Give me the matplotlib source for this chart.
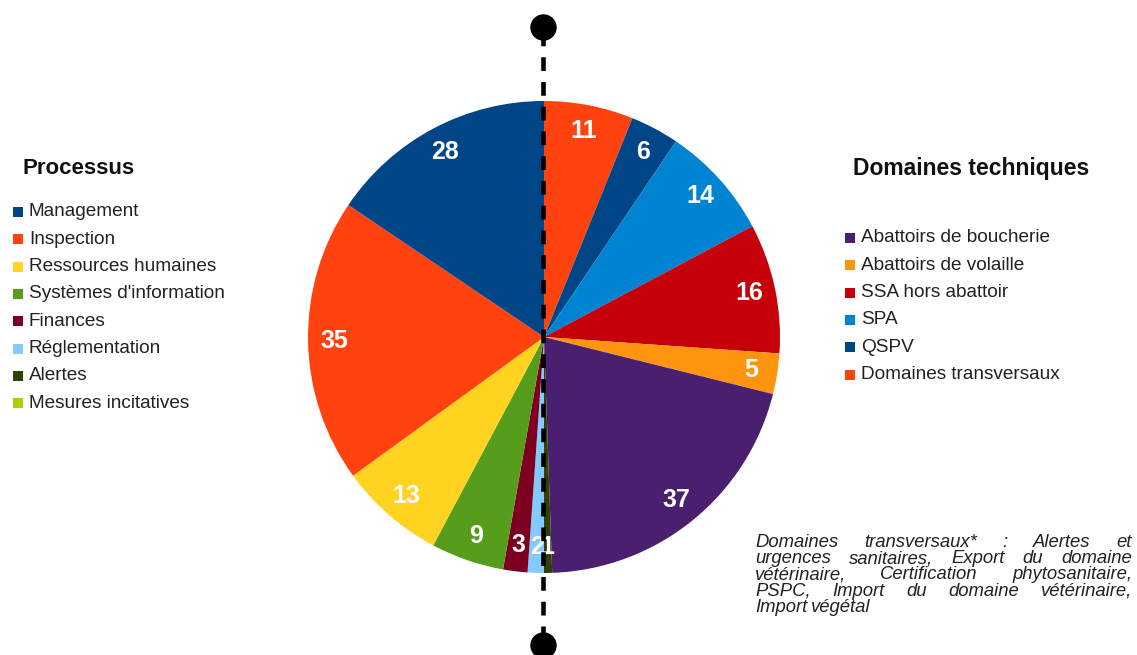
import matplotlib.pyplot as plt
from matplotlib.patches import Rectangle

plt.rcParams['font.family'] = ['Liberation Sans', 'DejaVu Sans']

W, H = 1137, 655

processus_labels = ['Management', 'Inspection', 'Ressources humaines',
                    "Systèmes d'information", 'Finances', 'Réglementation',
                    'Alertes', 'Mesures incitatives']
processus_values = [28, 35, 13, 9, 3, 2, 1, 0]
processus_colors = ['#004586', '#ff420e', '#ffd320', '#579d1c', '#7e0021',
                    '#83caff', '#314004', '#aecf00']

domaines_labels = ['Abattoirs de boucherie', 'Abattoirs de volaille',
                   'SSA hors abattoir', 'SPA', 'QSPV', 'Domaines transversaux']
domaines_values = [37, 5, 16, 14, 6, 11]
domaines_colors = ['#4b1f6f', '#ff950e', '#c5000b', '#0084d1', '#004586',
                   '#ff420e']

note_lines = [
    'Domaines transversaux* : Alertes et',
    'urgences sanitaires, Export du domaine',
    'vétérinaire, Certification phytosanitaire,',
    'PSPC, Import du domaine vétérinaire,',
    'Import végétal',
]


def Y(py):
    return H - py


fig = plt.figure(figsize=(W / 100, H / 100), dpi=100)
ax = fig.add_axes([0, 0, 1, 1])

# clockwise from top: domaines (reversed) then processus (reversed)
vals, cols = [], []
for v, c in zip(domaines_values[::-1], domaines_colors[::-1]):
    vals.append(v)
    cols.append(c)
for v, c in zip(processus_values[::-1], processus_colors[::-1]):
    if v > 0:
        vals.append(v)
        cols.append(c)
total = sum(vals)

ax.pie(vals, colors=cols, startangle=90, counterclock=False,
       center=(544, Y(337)), radius=236,
       autopct=lambda p: f'{round(p * total / 100)}', pctdistance=0.89,
       textprops=dict(color='white', fontweight='bold', fontsize=18),
       wedgeprops=dict(linewidth=0))

ax.set_xlim(0, W)
ax.set_ylim(0, H)
ax.set_aspect('equal')
ax.axis('off')

# vertical dashed separator with round ends
ax.plot([543, 543], [Y(32), Y(640)], color='black', lw=3.3,
        dashes=(3.0, 2.4), zorder=5)
ax.plot([543, 543], [Y(27), Y(645)], 'o', color='black', ms=18, zorder=6)

# left legend
ax.text(23, Y(168), 'Processus', fontsize=16, fontweight='bold',
        va='center', ha='left', color='#111111')
for i, (lab, c) in enumerate(zip(processus_labels, processus_colors)):
    yy = 212 + i * 27.3
    ax.add_patch(Rectangle((13, Y(yy) - 5), 10, 10, color=c, lw=0))
    ax.text(29, Y(yy), lab, fontsize=13.7, va='center', ha='left',
            color='#222222')

# right legend
ax.text(853, Y(168), 'Domaines techniques', fontsize=16.5, fontweight='bold',
        va='center', ha='left', color='#111111')
for i, (lab, c) in enumerate(zip(domaines_labels, domaines_colors)):
    yy = 238 + i * 27.3
    ax.add_patch(Rectangle((845, Y(yy) - 5), 10, 10, color=c, lw=0))
    ax.text(861, Y(yy), lab, fontsize=13.7, va='center', ha='left',
            color='#222222')

# justified italic note
renderer = fig.canvas.get_renderer()
x0, x1 = 755, 1132
for i, line in enumerate(note_lines):
    yy = Y(547 + i * 16.2)
    words = line.split(' ')
    texts = [ax.text(0, yy, w, fontsize=13.3, style='italic', va='baseline',
                     ha='left', color='#222222') for w in words]
    widths = [t.get_window_extent(renderer).width for t in texts]
    if i == len(note_lines) - 1 or len(words) == 1:
        gap = 4
    else:
        gap = (x1 - x0 - sum(widths)) / (len(words) - 1)
    x = x0
    for t, w in zip(texts, widths):
        t.set_x(x)
        x += w + gap

fig.savefig('out.png', dpi=100)
